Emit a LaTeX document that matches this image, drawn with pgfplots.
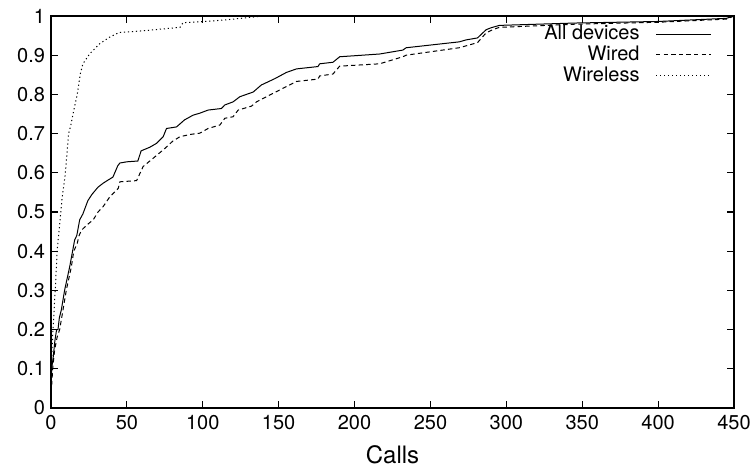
\documentclass[border=0pt]{standalone}
\usepackage{fontspec}
\setmainfont{TeX Gyre Heros}
\usepackage{pgfplots}
\pgfplotsset{compat=1.18}
\begin{document}
\begin{tikzpicture}
\begin{axis}[name=ax,
  scale only axis, width=341.5pt, height=196pt,
  xmin=0, xmax=450, ymin=0, ymax=1,
  xtick={0,50,100,150,200,250,300,350,400,450},
  ytick={0,0.1,0.2,0.3,0.4,0.5,0.6,0.7,0.8,0.9,1},
  /pgf/number format/assume math mode=true,
  tick align=inside, tick pos=both, major tick length=3.5pt,
  every tick/.style={black, line width=0.6pt},
  axis line style={line width=0.6pt},
  tick label style={font=\fontsize{10}{11}\selectfont},
  yticklabel style={xshift=0.5pt},
  xlabel={Calls},
  xlabel style={font=\fontsize{12}{13}\selectfont, at={(axis description cs:0.5,0)}, anchor=base, yshift=-27.6pt},
  legend plot pos=right,
  legend cell align=right,
  legend image code/.code={\draw[#1] (0pt,0pt) -- (27.5pt,0pt);},
  legend style={draw=none, fill=none, font=\fontsize{10}{11}\selectfont,
    at={(1,1)}, anchor=north east, xshift=-8pt, yshift=-0.5pt,
    column sep=6pt, row sep=-2.5pt},
]
\addplot[black, line width=0.5pt] coordinates {
(0,0) (0,0.05) (0.6,0.105) (1.5,0.131) (2.5,0.17) (3.7,0.2) (4.6,0.2) (5.5,0.23) (6.8,0.25) (9,0.301) (12.3,0.36) (15.6,0.429) (17,0.44) (18.9,0.48) (21,0.495) (24.3,0.529) (27,0.545) (30.9,0.563) (34.2,0.573) (37,0.58) (40.8,0.589) (44,0.618) (45.4,0.625) (50,0.628) (57.2,0.630) (59.4,0.656) (65,0.665) (69.5,0.675) (73.9,0.692) (76.1,0.713) (82.7,0.717) (88,0.735) (93.6,0.747) (98,0.752) (103.5,0.76) (112.3,0.764) (114.5,0.773) (120,0.781) (124.4,0.794) (133.2,0.806) (138.6,0.824) (147.4,0.84) (155.1,0.856) (161.7,0.865) (175.9,0.871) (177,0.878) (185.8,0.882) (190.2,0.896) (216.5,0.903) (231.8,0.913) (234,0.919) (269,0.934) (273.5,0.939) (281,0.944) (286.7,0.965) (290,0.97) (295.4,0.976) (345,0.982) (400,0.986) (445,0.994) (450,1.0)
};
\addlegendentry{All devices}
\addplot[black, line width=0.5pt, dash pattern=on 2.2pt off 1.6pt] coordinates {
(0,0) (0,0.03) (1.2,0.105) (2.4,0.148) (4,0.18) (5.7,0.2) (7.9,0.25) (10.1,0.301) (13.4,0.36) (15,0.40) (17.3,0.42) (18.5,0.44) (20.2,0.454) (24,0.468) (27.8,0.48) (31,0.5) (34.4,0.514) (38.8,0.539) (44.3,0.56) (45.4,0.577) (56.4,0.58) (60.7,0.616) (67.3,0.637) (75,0.662) (80,0.68) (84.9,0.692) (92,0.698) (98,0.701) (103.5,0.713) (111.3,0.722) (114.5,0.739) (120,0.743) (123.3,0.76) (132.1,0.77) (135.4,0.781) (148.5,0.807) (161.7,0.833) (175.9,0.839) (177,0.847) (185.8,0.852) (190.2,0.872) (216.5,0.878) (231.8,0.896) (234,0.9) (269,0.919) (281,0.932) (286.7,0.957) (291,0.965) (295.4,0.971) (345,0.979) (400,0.984) (445,0.992) (450,1.0)
};
\addlegendentry{Wired}
\addplot[black, line width=0.5pt, dash pattern=on 0.6pt off 1.4pt] coordinates {
(0,0) (0,0.04) (0.2,0.105) (1.3,0.199) (2.8,0.301) (4.1,0.403) (5.5,0.46) (6.4,0.497) (7.2,0.531) (9.4,0.597) (11.2,0.68) (11.6,0.70) (13,0.72) (14.5,0.75) (17.3,0.80) (19.3,0.852) (21,0.878) (25.4,0.903) (32,0.929) (38.6,0.946) (45,0.958) (60,0.962) (85,0.971) (87,0.983) (98,0.985) (115,0.99) (135,0.998) (140,1) (450,1)
};
\addlegendentry{Wireless}
\end{axis}
\pgfresetboundingbox
\path ([xshift=-25.5pt,yshift=-30pt]ax.south west) rectangle ([xshift=10.5pt,yshift=8pt]ax.north east);
\end{tikzpicture}
\end{document}
